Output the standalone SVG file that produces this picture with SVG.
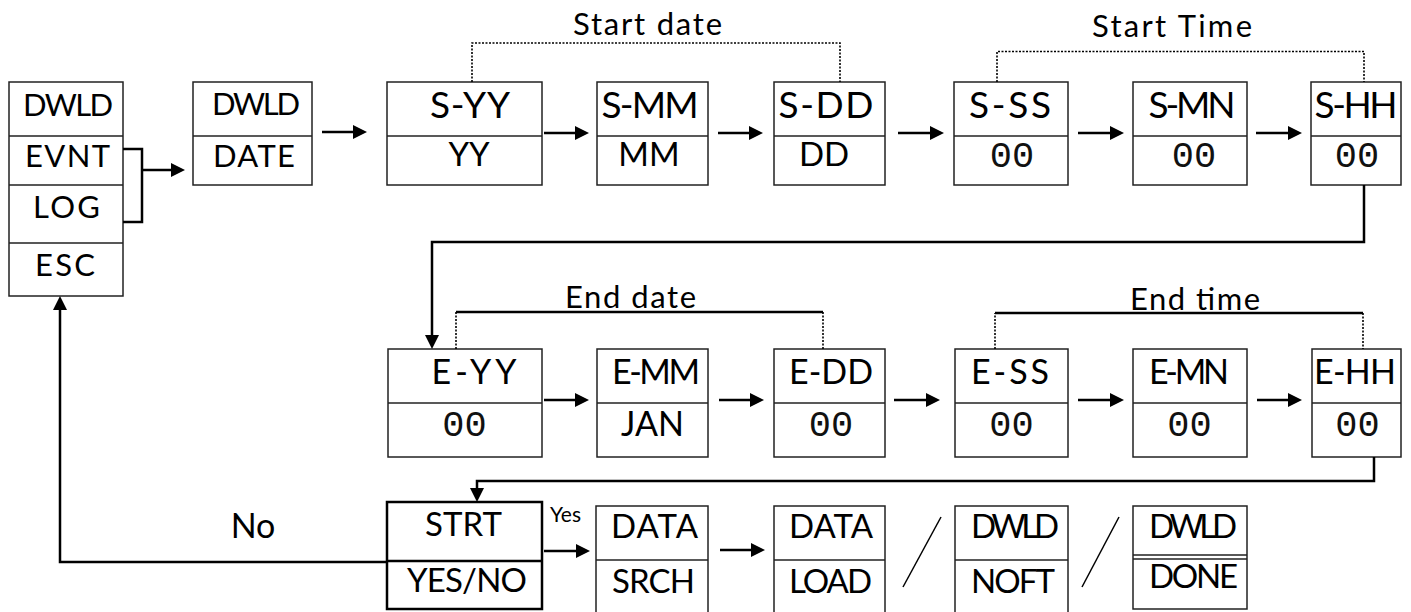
<svg xmlns="http://www.w3.org/2000/svg" width="1411" height="612" viewBox="0 0 1411 612">
  <defs>
    <style>
      .box{fill:#fff;stroke:#222;stroke-width:1.5}
      .dv{fill:none;stroke:#222;stroke-width:1.5}
      .t{font-family:Lato,"Open Sans",sans-serif;text-anchor:middle;fill:#000}
      .m{font-size:31px}
      .h{font-size:37px}
      .l{font-size:33px}
      .e{font-size:34px}
      .seg{font-family:"Liberation Mono",monospace;font-size:37px;text-anchor:middle;fill:#111}
      .w{fill:none;stroke:#000;stroke-width:2.5}
      .arr{marker-end:url(#ah)}
      .dot{fill:none;stroke:#000;stroke-width:1.6;stroke-dasharray:2 1.5}
      .sl{stroke:#000;stroke-width:1.5}
    </style>
    <marker id="ah" viewBox="0 0 14 14" refX="10" refY="7" markerWidth="14" markerHeight="14" markerUnits="userSpaceOnUse" orient="auto">
      <path d="M0,0L14,7L0,14z" fill="#000"/>
    </marker>
  </defs>

  <rect width="1411" height="612" fill="#fff"/>

  <!-- main menu -->
  <g id="menu">
    <rect class="box" x="9" y="82" width="114" height="214"/>
    <path class="dv" d="M9,136H123M9,185H123M9,243H123"/>
    <text class="t m" x="68" y="116" textLength="90">DWLD</text>
    <text class="t m" x="67.5" y="167" textLength="85">EVNT</text>
    <text class="t m" x="66.5" y="218" textLength="67">LOG</text>
    <text class="t m" x="65" y="276" textLength="60">ESC</text>
  </g>

  <g id="dwld-date">
    <rect class="box" x="193" y="82" width="119" height="103"/>
    <path class="dv" d="M193,136H312"/>
    <text class="t m" x="256" y="115" textLength="88">DWLD</text>
    <text class="t m" x="254" y="167" textLength="82">DATE</text>
  </g>

  <!-- start date / time -->
  <g id="s-yy">
    <rect class="box" x="387" y="82" width="155" height="103"/>
    <path class="dv" d="M387,136H542"/>
    <text class="t h" x="470" y="118" textLength="80">S-YY</text>
    <text class="t l" x="469" y="166">YY</text>
  </g>
  <g id="s-mm">
    <rect class="box" x="597" y="82" width="111" height="103"/>
    <path class="dv" d="M597,136H708"/>
    <text class="t h" x="650" y="118" textLength="97">S-MM</text>
    <text class="t l" x="649" y="166">MM</text>
  </g>
  <g id="s-dd">
    <rect class="box" x="774" y="82" width="111" height="103"/>
    <path class="dv" d="M774,136H885"/>
    <text class="t h" x="826" y="118" textLength="95">S-DD</text>
    <text class="t l" x="824" y="166">DD</text>
  </g>
  <g id="s-ss">
    <rect class="box" x="954" y="82" width="114" height="103"/>
    <path class="dv" d="M954,136H1068"/>
    <text class="t h" x="1010" y="118" textLength="82">S-SS</text>
    <text class="seg" x="1012" y="167">00</text>
  </g>
  <g id="s-mn">
    <rect class="box" x="1133" y="82" width="114" height="103"/>
    <path class="dv" d="M1133,136H1247"/>
    <text class="t h" x="1192" y="118" textLength="87">S-MN</text>
    <text class="seg" x="1194" y="167">00</text>
  </g>
  <g id="s-hh">
    <rect class="box" x="1311" y="82" width="90" height="103"/>
    <path class="dv" d="M1311,136H1401"/>
    <text class="t h" x="1356" y="118" textLength="83">S-HH</text>
    <text class="seg" x="1357" y="167">00</text>
  </g>

  <!-- end date / time -->
  <g id="e-yy">
    <rect class="box" x="388" y="349" width="154" height="108"/>
    <path class="dv" d="M388,403H542"/>
    <text class="t e" x="474" y="384" textLength="85">E-YY</text>
    <text class="seg" x="464.5" y="436">00</text>
  </g>
  <g id="e-mm">
    <rect class="box" x="597" y="349" width="111" height="108"/>
    <path class="dv" d="M597,403H708"/>
    <text class="t e" x="656" y="384" textLength="88">E-MM</text>
    <text class="t e" x="652.5" y="436">JAN</text>
  </g>
  <g id="e-dd">
    <rect class="box" x="774" y="349" width="111" height="108"/>
    <path class="dv" d="M774,403H885"/>
    <text class="t e" x="831" y="384" textLength="84">E-DD</text>
    <text class="seg" x="831" y="436">00</text>
  </g>
  <g id="e-ss">
    <rect class="box" x="955" y="349" width="113" height="108"/>
    <path class="dv" d="M955,403H1068"/>
    <text class="t e" x="1010" y="384" textLength="78">E-SS</text>
    <text class="seg" x="1011.5" y="436">00</text>
  </g>
  <g id="e-mn">
    <rect class="box" x="1133" y="349" width="114" height="108"/>
    <path class="dv" d="M1133,403H1247"/>
    <text class="t e" x="1189" y="384" textLength="80">E-MN</text>
    <text class="seg" x="1189.5" y="436">00</text>
  </g>
  <g id="e-hh">
    <rect class="box" x="1312" y="349" width="89" height="108"/>
    <path class="dv" d="M1312,403H1401"/>
    <text class="t e" x="1355" y="384" textLength="82">E-HH</text>
    <text class="seg" x="1357.5" y="436">00</text>
  </g>

  <!-- download sequence -->
  <g id="strt">
    <rect x="387" y="502" width="155" height="107" fill="#fff" stroke="#000" stroke-width="2.5"/>
    <path d="M387,561H542" stroke="#000" stroke-width="2.5"/>
    <text class="t l" x="463.5" y="536" textLength="77">STRT</text>
    <text class="t l" x="467" y="592" textLength="120">YES/NO</text>
  </g>
  <g id="data-srch">
    <rect class="box" x="596" y="506" width="112" height="120"/>
    <path class="dv" d="M596,560H708"/>
    <text class="t l" x="654.5" y="538" textLength="87">DATA</text>
    <text class="t l" x="653.5" y="593" textLength="83">SRCH</text>
  </g>
  <g id="data-load">
    <rect class="box" x="774" y="506" width="111" height="120"/>
    <path class="dv" d="M774,560H885"/>
    <text class="t l" x="831" y="538" textLength="84">DATA</text>
    <text class="t l" x="830.5" y="593" textLength="83">LOAD</text>
  </g>
  <g id="dwld-noft">
    <rect class="box" x="955" y="506" width="113" height="120"/>
    <path class="dv" d="M955,560H1068"/>
    <text class="t l" x="1015" y="538" textLength="88">DWLD</text>
    <text class="t l" x="1013" y="593" textLength="84">NOFT</text>
  </g>
  <g id="dwld-done">
    <rect class="box" x="1133" y="506" width="114" height="103"/>
    <path class="dv" d="M1133,555H1247M1133,559H1247"/>
    <text class="t l" x="1193" y="538" textLength="88">DWLD</text>
    <text class="t l" x="1193.5" y="588" textLength="89">DONE</text>
  </g>

  <!-- group labels -->
  <g id="labels">
    <text class="t m" x="647.5" y="35" textLength="149">Start date</text>
    <text class="t m" x="1172" y="37" textLength="160">Start Time</text>
    <text class="t m" x="630.5" y="308" textLength="131">End date</text>
    <text class="t m" x="1195" y="310" textLength="130">End time</text>
    <text class="t e" x="253" y="538">No</text>
    <text class="t" style="font-size:21px" x="565.5" y="522">Yes</text>
  </g>

  <g id="connectors">
    <!-- menu bracket -->
    <path class="w" d="M123,149H142V222H123"/>
    <path class="w arr" d="M142,170H181"/>
    <path class="w arr" d="M322,132H363"/>
    <!-- start row -->
    <path class="w arr" d="M544,133H585"/>
    <path class="w arr" d="M718,133H759"/>
    <path class="w arr" d="M898,133H940"/>
    <path class="w arr" d="M1078,133H1120"/>
    <path class="w arr" d="M1256,133H1298"/>
    <path class="w arr" d="M1364,185V242H432V345"/>
    <!-- end row -->
    <path class="w arr" d="M544,400H585"/>
    <path class="w arr" d="M719,400H760"/>
    <path class="w arr" d="M894,400H936"/>
    <path class="w arr" d="M1078,400H1120"/>
    <path class="w arr" d="M1257,400H1298"/>
    <path class="w arr" d="M1374,457V481H477V498"/>
    <!-- download row -->
    <path class="w arr" d="M544,551H586"/>
    <path class="w arr" d="M720,550H761"/>
    <path class="w arr" d="M388,562H60V300"/>
    <line class="sl" x1="903" y1="587" x2="941" y2="517"/>
    <line class="sl" x1="1082" y1="587" x2="1119" y2="517"/>
    <!-- group brackets -->
    <path class="dot" d="M472,82V43H840V82"/>
    <path class="dot" d="M997,82V51.5H1364V82"/>
    <path class="dot" d="M456,349V312M823,312V349"/>
    <path class="w" d="M456,312H823"/>
    <path class="dot" d="M995,349V313M1363,313V349"/>
    <path class="w" d="M995,313H1363"/>
  </g>
</svg>
